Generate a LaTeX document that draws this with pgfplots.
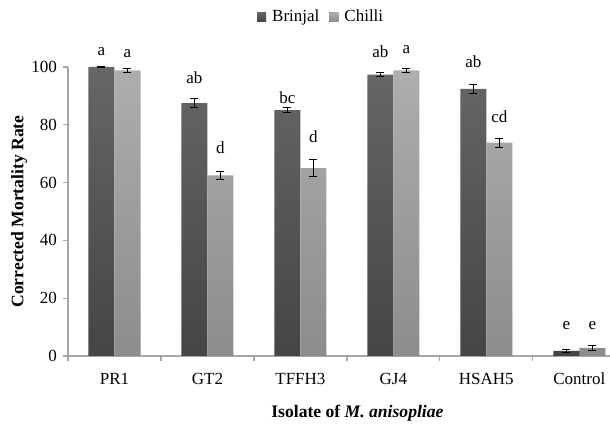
\documentclass[border=0pt]{standalone}
\usepackage{pgfplots}
\pgfplotsset{compat=1.18}
\usepackage{fontspec}
\setmainfont{Liberation Serif}
\usetikzlibrary{calc}
\definecolor{axisgray}{HTML}{A6A6A6}
\begin{document}
\fontsize{8.5}{10}\selectfont
\begin{tikzpicture}
\begin{axis}[
  name=ax,
  scale only axis,
  width=271pt, height=144.5pt,
  xmin=-0.5, xmax=5.33,
  ymin=0, ymax=100,
  axis x line*=bottom, axis y line*=left,
  axis line style={axisgray, line width=0.6pt},
  xtick={0,1,2,3,4,5},
  xticklabels={PR1,GT2,TFFH3,GJ4,HSAH5,Control},
  major x tick style={draw=none},
  minor xtick={-0.5,0.5,1.5,2.5,3.5,4.5},
  minor x tick style={axisgray, line width=0.6pt},
  minor tick length=2.5pt,
  ytick={0,20,40,60,80,100},
  major y tick style={axisgray, line width=0.6pt},
  major tick length=2.5pt,
  tick align=outside,
  /pgf/number format/assume math mode=true,
  ticklabel style={font=\fontsize{8.5}{10}\selectfont},
  xticklabel style={yshift=-3pt},
  ylabel={\textbf{Corrected Mortality Rate}},
  ylabel style={at={(axis description cs:-0.09,0.5)}, anchor=center, font=\fontsize{8.8}{10.5}\selectfont},
  xlabel={\textbf{Isolate of \textit{M. anisopliae}}},
  xlabel style={at={(axis description cs:0.534,0)}, anchor=center, yshift=-28.5pt, font=\fontsize{8.8}{10.5}\selectfont},
  clip=false,
  legend style={at={(axis description cs:0.469,1.173)}, anchor=center, draw=none, legend columns=2, font=\fontsize{8.5}{10}\selectfont, /tikz/every even column/.append style={column sep=3pt}, inner sep=0pt, /tikz/every odd column/.append style={column sep=1pt}},
  legend image code/.code={\fill[#1] (0pt,-2.4pt) rectangle (4.5pt,2.4pt);},
  legend cell align=left,
]
\addplot[ybar, bar width=0.28, bar shift=0pt, draw=none, top color=black!60, bottom color=black!73,
  error bars/.cd, y dir=both, y explicit, error bar style={black, line width=0.5pt}, error mark options={rotate=90, black, mark size=2pt, line width=0.5pt}]
  coordinates {
  (-0.14,100) +- (0,0.15)
  (0.86,87.5) +- (0,1.5)
  (1.86,85.1) +- (0,1.0)
  (2.86,97.4) +- (0,0.7)
  (3.86,92.4) +- (0,1.6)
  (4.86,1.8) +- (0,0.5)
  };
\addlegendentry{Brinjal}
\addplot[ybar, bar width=0.28, bar shift=0pt, draw=none, top color=black!32, bottom color=black!45,
  error bars/.cd, y dir=both, y explicit, error bar style={black, line width=0.5pt}, error mark options={rotate=90, black, mark size=2pt, line width=0.5pt}]
  coordinates {
  (0.14,98.8) +- (0,0.7)
  (1.14,62.5) +- (0,1.3)
  (2.14,65.0) +- (0,3.0)
  (3.14,98.8) +- (0,0.7)
  (4.14,73.8) +- (0,1.5)
  (5.14,2.8) +- (0,1.0)
  };
\addlegendentry{Chilli}
\node at (axis cs:-0.14,105.5) {a};
\node at (axis cs:0.14,104.5) {a};
\node at (axis cs:0.86,96.2) {ab};
\node at (axis cs:1.14,72) {d};
\node at (axis cs:1.86,89.3) {bc};
\node at (axis cs:2.14,75.8) {d};
\node at (axis cs:2.86,105.2) {ab};
\node at (axis cs:3.14,105.9) {a};
\node at (axis cs:3.86,101.7) {ab};
\node at (axis cs:4.14,82.7) {cd};
\node at (axis cs:4.86,10.6) {e};
\node at (axis cs:5.14,10.6) {e};
\end{axis}
\pgfresetboundingbox
\path[use as bounding box] ($(ax.south west)+(-34pt,-35pt)$) rectangle ($(ax.north east)+(0pt,33.5pt)$);
\end{tikzpicture}
\end{document}
